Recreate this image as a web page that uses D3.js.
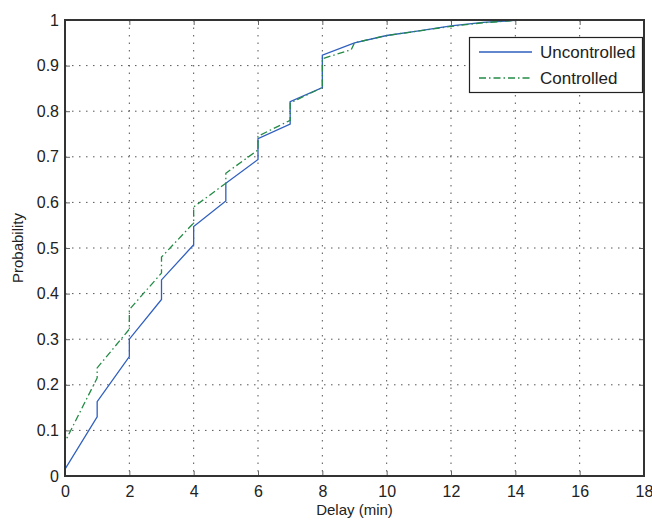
<!DOCTYPE html>
<html>
<head>
<meta charset="utf-8">
<script src="https://cdn.jsdelivr.net/npm/d3@7"></script>
<style>
  body { margin: 0; background: #fff; }
  svg { display: block; font-family: "Liberation Sans", Arial, sans-serif; }
</style>
</head>
<body>
<div id="chart"></div>
<script>

// data (delay in min, cumulative probability)
var uncDelay = [0, 0, 1, 1, 2, 2, 3, 3, 4, 4, 5, 5, 6, 6, 7, 7, 8, 8, 9, 10, 11, 12, 13, 14, 18]
var uncProb  = [0, 0.015, 0.13, 0.163, 0.262, 0.30, 0.387, 0.43, 0.507, 0.547, 0.603, 0.642, 0.694, 0.74, 0.772, 0.821, 0.852, 0.923, 0.95, 0.966, 0.976, 0.987, 0.995, 0.999, 1]

var ctlDelay = [0, 0, 1, 1, 2, 2, 3, 3, 4, 4, 5, 5, 6, 6, 7, 7, 8, 8, 8.9, 9, 10, 11, 12, 13, 14, 18]
var ctlProb  = [0.03, 0.075, 0.215, 0.237, 0.322, 0.365, 0.445, 0.48, 0.555, 0.59, 0.642, 0.664, 0.715, 0.745, 0.78, 0.818, 0.852, 0.915, 0.935, 0.95, 0.966, 0.976, 0.986, 0.994, 0.999, 1]

var xTicks = [0, 2, 4, 6, 8, 10, 12, 14, 16, 18]
var yTicks = [0, 0.1, 0.2, 0.3, 0.4, 0.5, 0.6, 0.7, 0.8, 0.9, 1]

var seriesNames = ['Uncontrolled', 'Controlled']
var seriesCols = ['#2f5fbf', '#238b45']
var seriesDash = ['none', '7,3,1.5,3']

var W = 652, H = 523
var pL = 65, pR = 644, pT = 20, pB = 476 // plot box edges

var svg = d3.select('#chart').append('svg')
    .attr('width', W)
    .attr('height', H)

var x = d3.scaleLinear().domain([0, 18]).range([pL, pR])
var y = d3.scaleLinear().domain([0, 1]).range([pB, pT])

// dotted grid
svg.append('g').selectAll('line')
  .data(xTicks.slice(1, -1))
  .join('line')
  .attr('x1', d => x(d)).attr('x2', d => x(d))
  .attr('y1', pT).attr('y2', pB)
  .attr('stroke', '#555')
  .attr('stroke-width', 1)
  .attr('stroke-dasharray', '1.5,6')

svg.append('g').selectAll('line')
  .data(yTicks.slice(1, -1))
  .join('line')
  .attr('x1', pL).attr('x2', pR)
  .attr('y1', d => y(d)).attr('y2', d => y(d))
  .attr('stroke', '#555')
  .attr('stroke-width', 1)
  .attr('stroke-dasharray', '1.5,5.5')

// axes (ticks inward, matlab style)
svg.append('g')
    .attr('transform', 'translate(0,' + pB + ')')
    .call(d3.axisBottom(x).tickValues(xTicks).tickSizeInner(-5).tickSizeOuter(0).tickPadding(10))
svg.append('g')
    .attr('transform', 'translate(0,' + pT + ')')
    .call(d3.axisTop(x).tickValues(xTicks).tickSizeInner(-5).tickSizeOuter(0).tickFormat(''))
svg.append('g')
    .attr('transform', 'translate(' + pL + ',0)')
    .call(d3.axisLeft(y).tickValues(yTicks).tickSizeInner(-5).tickSizeOuter(0).tickPadding(6).tickFormat(d3.format('~g')))
svg.append('g')
    .attr('transform', 'translate(' + pR + ',0)')
    .call(d3.axisRight(y).tickValues(yTicks).tickSizeInner(-5).tickSizeOuter(0).tickFormat(''))

svg.selectAll('.domain').remove()
svg.selectAll('.tick line').attr('stroke', '#666')
svg.selectAll('.tick text')
  .attr('font-size', 16)
  .attr('font-family', '"Liberation Sans", Arial, sans-serif')
  .attr('fill', '#222')

// lines
var line = d3.line()
    .x(d => x(d[0]))
    .y(d => y(d[1]))

var uncData = uncDelay.map((d, i) => [d, uncProb[i]])
var ctlData = ctlDelay.map((d, i) => [d, ctlProb[i]])

svg.append('path')
  .datum(uncData)
  .attr('d', line)
  .attr('fill', 'none')
  .attr('stroke', seriesCols[0])
  .attr('stroke-width', 1.3)

svg.append('path')
  .datum(ctlData)
  .attr('d', line)
  .attr('fill', 'none')
  .attr('stroke', seriesCols[1])
  .attr('stroke-width', 1.3)
  .attr('stroke-dasharray', seriesDash[1])

// axes frame
svg.append('rect')
  .attr('x', pL)
  .attr('y', pT)
  .attr('width', pR - pL)
  .attr('height', pB - pT)
  .attr('fill', 'none')
  .attr('stroke', '#333')
  .attr('stroke-width', 2)

// axis labels
svg.append('text')
  .attr('x', (pL + pR) / 2)
  .attr('y', 515)
  .attr('text-anchor', 'middle')
  .attr('font-size', 15)
  .attr('fill', '#222')
  .text('Delay (min)')

svg.append('text')
  .attr('transform', 'translate(23,' + ((pT + pB) / 2) + ') rotate(-90)')
  .attr('text-anchor', 'middle')
  .attr('font-size', 15)
  .attr('fill', '#222')
  .text('Probability')

// legend
var lg = svg.append('g')
lg.append('rect')
  .attr('x', 469.5)
  .attr('y', 37.5)
  .attr('width', 173)
  .attr('height', 55)
  .attr('fill', '#fff')
  .attr('stroke', '#222')
  .attr('stroke-width', 1.2)

var ly = [52, 78]
for (i in seriesNames) {
  lg.append('line')
    .attr('x1', 479)
    .attr('x2', 532)
    .attr('y1', ly[i])
    .attr('y2', ly[i])
    .attr('stroke', seriesCols[i])
    .attr('stroke-width', 1.3)
    .attr('stroke-dasharray', seriesDash[i])

  lg.append('text')
    .attr('x', 540)
    .attr('y', ly[i] + 6)
    .attr('font-size', 17)
    .attr('fill', '#222')
    .text(seriesNames[i])
}

</script>
</body>
</html>
